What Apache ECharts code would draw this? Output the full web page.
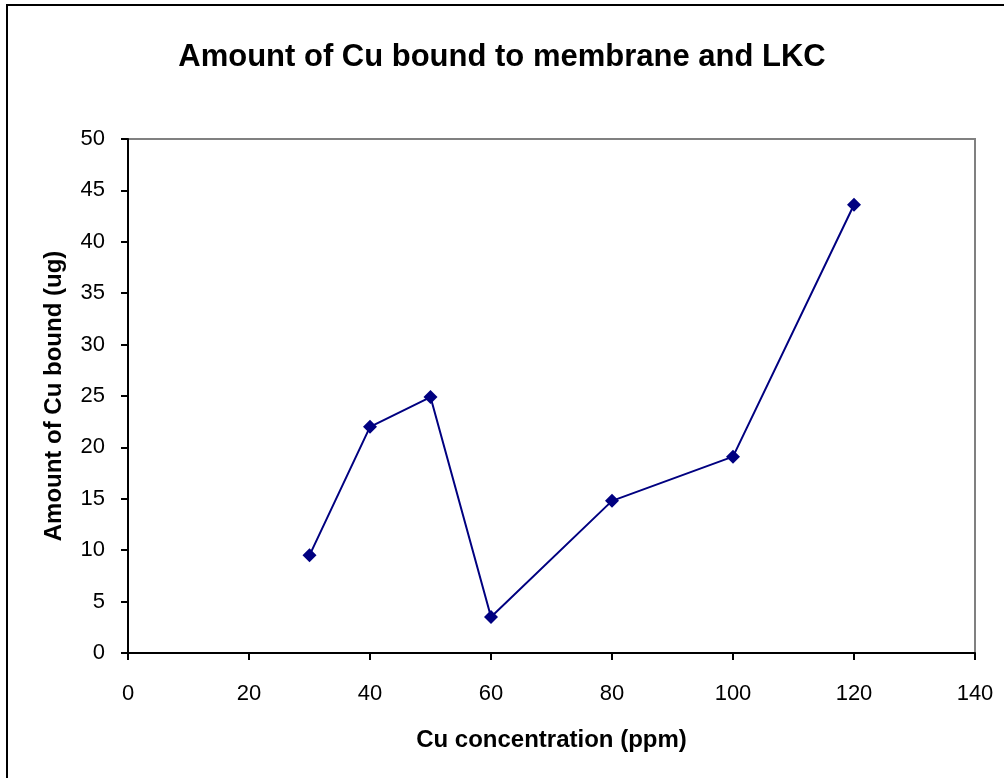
<!DOCTYPE html>
<html>
<head>
<meta charset="utf-8">
<script src="https://cdn.jsdelivr.net/npm/echarts@6/dist/echarts.min.js"></script>
<style>
    html, body { margin: 0; padding: 0; background: #fff; overflow: hidden; }
    #frame {
        position: absolute; left: 6px; top: 4px;
        width: 1010px; height: 790px;
        border: 2px solid #000; box-sizing: border-box;
    }
    #chart { position: absolute; left: 0; top: 0; width: 1004px; height: 778px; }
</style>
</head>
<body>
<div id="frame"></div>
<div id="chart"></div>
<script>
// Cu concentration (ppm)
var concentration = [30, 40, 50, 60, 80, 100, 120];
// Amount of Cu bound (ug)
var cuBound = [9.5, 22, 24.9, 3.5, 14.8, 19.1, 43.6];

var points = concentration.map(function (c, i) { return [c, cuBound[i]]; });

var myChart = echarts.init(document.getElementById('chart'));
var font = 'Arial, "Liberation Sans", sans-serif';

var option = {
    animation: false,
    title: {
        text: 'Amount of Cu bound to membrane and LKC',
        left: 'center',
        top: 37,
        textStyle: { fontFamily: font, fontSize: 31, fontWeight: 'bold', color: '#000' }
    },
    grid: {
        left: 128, top: 139, right: 29, bottom: 125,
        show: true, borderColor: '#808080', borderWidth: 2, backgroundColor: 'transparent'
    },
    xAxis: {
        type: 'value',
        min: 0, max: 140, interval: 20,
        name: 'Cu concentration (ppm)',
        nameLocation: 'middle',
        nameGap: 75,
        nameTextStyle: { fontFamily: font, fontSize: 24, fontWeight: 'bold', color: '#000' },
        axisLine: { show: true, onZero: false, lineStyle: { color: '#000', width: 2 } },
        axisTick: { show: true, inside: false, length: 7, lineStyle: { color: '#000', width: 2 } },
        axisLabel: { fontFamily: font, fontSize: 22, color: '#000', margin: 30 },
        splitLine: { show: false }
    },
    yAxis: {
        type: 'value',
        min: 0, max: 50, interval: 5,
        name: 'Amount of Cu bound (ug)',
        nameLocation: 'middle',
        nameGap: 62,
        nameTextStyle: { fontFamily: font, fontSize: 24, fontWeight: 'bold', color: '#000' },
        axisLine: { show: true, onZero: false, lineStyle: { color: '#000', width: 2 } },
        axisTick: { show: true, inside: false, length: 7, lineStyle: { color: '#000', width: 2 } },
        axisLabel: { fontFamily: font, fontSize: 22, color: '#000', margin: 23 },
        splitLine: { show: false }
    },
    series: [
        {
            type: 'line',
            data: points,
            symbol: 'diamond',
            symbolSize: 14,
            lineStyle: { color: '#000080', width: 2 },
            itemStyle: { color: '#000080' }
        }
    ]
};

myChart.setOption(option);
</script>
</body>
</html>
